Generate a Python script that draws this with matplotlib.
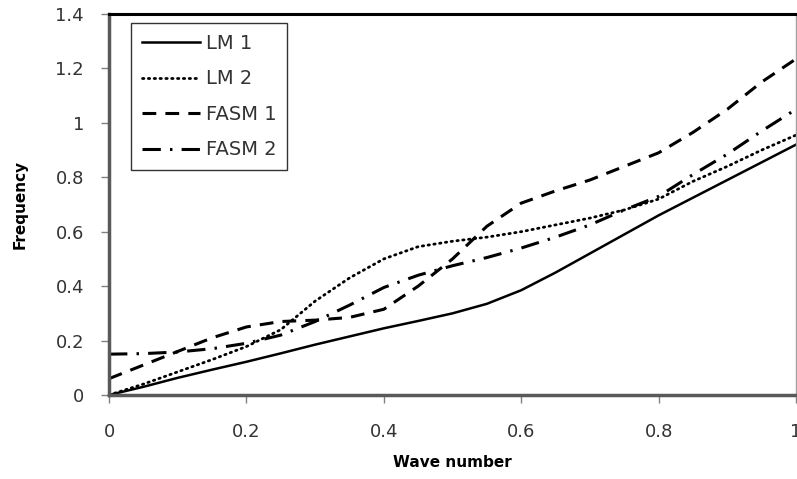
import matplotlib
matplotlib.use('Agg')
import matplotlib.pyplot as plt

# Data
wave = [0, 0.05, 0.1, 0.15, 0.2, 0.25, 0.3, 0.35, 0.4, 0.45, 0.5,
        0.55, 0.6, 0.65, 0.7, 0.75, 0.8, 0.85, 0.9, 0.95, 1.0]
lm1 = [0, 0.03, 0.063, 0.093, 0.122, 0.153, 0.185, 0.215, 0.245, 0.272, 0.30,
       0.335, 0.385, 0.45, 0.52, 0.59, 0.66, 0.725, 0.79, 0.855, 0.92]
lm2 = [0, 0.04, 0.085, 0.13, 0.178, 0.24, 0.345, 0.43, 0.50, 0.545, 0.565,
       0.58, 0.60, 0.625, 0.65, 0.68, 0.72, 0.785, 0.84, 0.90, 0.955]
fasm1 = [0.06, 0.11, 0.16, 0.21, 0.25, 0.27, 0.275, 0.285, 0.315, 0.40, 0.50,
         0.62, 0.705, 0.75, 0.79, 0.84, 0.89, 0.965, 1.05, 1.15, 1.235]
fasm2 = [0.15, 0.152, 0.158, 0.17, 0.19, 0.22, 0.27, 0.33, 0.395, 0.44, 0.475,
         0.505, 0.54, 0.58, 0.625, 0.68, 0.73, 0.81, 0.885, 0.97, 1.05]

labels = ['LM 1', 'LM 2', 'FASM 1', 'FASM 2']
xticks = [0, 0.2, 0.4, 0.6, 0.8, 1.0]
xticklabels = ['0', '0.2', '0.4', '0.6', '0.8', '1']
yticks = [0, 0.2, 0.4, 0.6, 0.8, 1.0, 1.2, 1.4]
yticklabels = ['0', '0.2', '0.4', '0.6', '0.8', '1', '1.2', '1.4']

fig = plt.figure(figsize=(7.97, 4.79), dpi=100)
ax = fig.add_axes([0.1368, 0.1754, 0.862, 0.7954])

ax.plot(wave, lm1, color='black', lw=1.8, linestyle='-', label=labels[0])
ax.plot(wave, lm2, color='black', lw=2.0, linestyle=(0, (0.5, 1.6)),
        dash_capstyle='round', label=labels[1])
ax.plot(wave, fasm1, color='black', lw=2.2, linestyle=(0, (4.5, 3)), label=labels[2])
ax.plot(wave, fasm2, color='black', lw=2.2, linestyle=(0, (6, 3, 0.8, 3)), label=labels[3])

ax.set_xlim(0, 1)
ax.set_ylim(0, 1.4)
ax.set_xticks(xticks)
ax.set_xticklabels(xticklabels)
ax.set_yticks(yticks)
ax.set_yticklabels(yticklabels)

# spines like the original excel chart
ax.spines['top'].set_color('black')
ax.spines['top'].set_linewidth(2.2)
ax.spines['left'].set_color('#595959')
ax.spines['left'].set_linewidth(2.5)
ax.spines['bottom'].set_color('#595959')
ax.spines['bottom'].set_linewidth(2.5)
ax.spines['right'].set_color('#a0a0a0')
ax.spines['right'].set_linewidth(1.0)

ax.tick_params(axis='both', direction='out', length=6, width=1,
               color='#808080', labelsize=13, labelcolor='#333333')
ax.tick_params(axis='x', pad=14)
ax.tick_params(axis='y', pad=12)

ax.set_xlabel('Wave number', fontsize=11, fontweight='bold', labelpad=10)
ax.set_ylabel('Frequency', fontsize=11, fontweight='bold', labelpad=20)

leg = ax.legend(loc='upper left', bbox_to_anchor=(0.032, 0.976), borderaxespad=0,
                fontsize=14, frameon=True, fancybox=False, handlelength=3.0,
                labelspacing=0.85, borderpad=0.55, handletextpad=0.3)
leg.get_frame().set_edgecolor('black')
leg.get_frame().set_linewidth(1.0)
for t in leg.get_texts():
    t.set_color('#333333')

plt.savefig('out.png', dpi=100)
